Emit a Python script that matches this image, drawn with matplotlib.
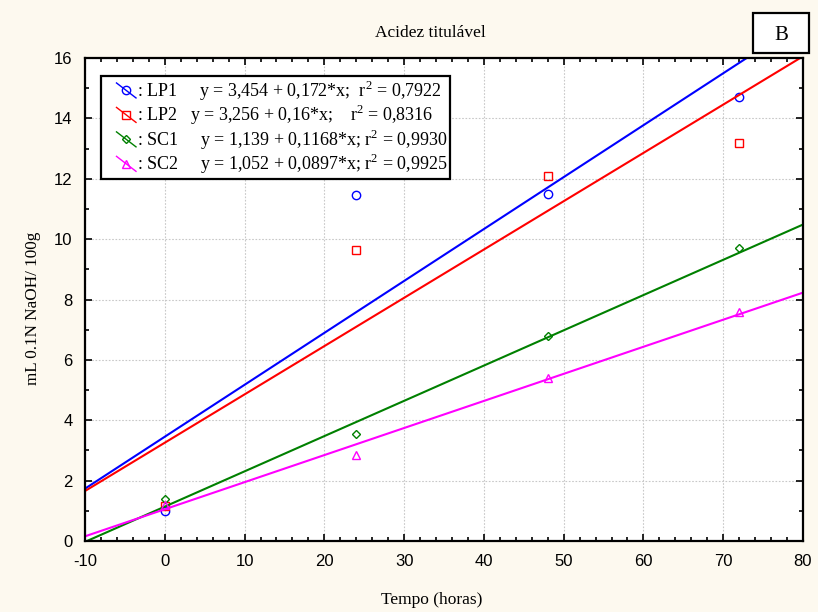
import numpy as np
import matplotlib
matplotlib.use("Agg")
import matplotlib.pyplot as plt
from matplotlib.ticker import MultipleLocator
from matplotlib.patches import Rectangle
from matplotlib.lines import Line2D
from matplotlib.legend_handler import HandlerBase

# measured points (mL 0.1N NaOH / 100g) over time (hours)
tempo = [0, 24, 48, 72]
lp1 = [1.0, 11.45, 11.5, 14.7]
lp2 = [1.15, 9.65, 12.1, 13.2]
sc1 = [1.4, 3.55, 6.8, 9.7]
sc2 = [1.2, 2.85, 5.4, 7.6]

# linear fits shown in the legend
names = ["LP1", "LP2", "SC1", "SC2"]
intercepts = [3.454, 3.256, 1.139, 1.052]
slopes = [0.172, 0.16, 0.1168, 0.0897]
labels = [
    ": LP1     y = 3,454 + 0,172*x;  r$^2$ = 0,7922",
    ": LP2   y = 3,256 + 0,16*x;    r$^2$ = 0,8316",
    ": SC1     y = 1,139 + 0,1168*x; r$^2$ = 0,9930",
    ": SC2     y = 1,052 + 0,0897*x; r$^2$ = 0,9925",
]
colors = ["#0000ff", "#ff0000", "#008000", "#ff00ff"]
markers = ["o", "s", "D", "^"]
msizes = [6, 6, 4.5, 6]

serif = "Liberation Serif"
sans = "Liberation Sans"
plt.rcParams["mathtext.fontset"] = "custom"
plt.rcParams["mathtext.rm"] = serif
plt.rcParams["axes.unicode_minus"] = False


class DiagonalHandler(HandlerBase):
    # short slanted line with the marker in the middle, like the original legend
    def create_artists(self, legend, orig, xdescent, ydescent, width, height, fontsize, trans):
        x0, x1 = -xdescent + width * 0.4, -xdescent + width
        y0, y1 = -ydescent + height * 1.0, -ydescent
        line = Line2D([x0, x1], [y0, y1], color=orig.get_color(), lw=1.0, transform=trans)
        mark = Line2D([(x0 + x1) / 2], [(y0 + y1) / 2], ls="none", marker=orig.get_marker(),
                      ms=orig.get_markersize(), mfc="none", mec=orig.get_color(), transform=trans)
        return [line, mark]


fig = plt.figure(figsize=(8.18, 6.12), dpi=100)
fig.patch.set_facecolor("#fdf9ef")
ax = fig.add_axes([85 / 818, 1 - 541 / 612, 718 / 818, 483 / 612])
ax.set_facecolor("white")

xfit = np.linspace(-10, 80, 200)
series = [lp1, lp2, sc1, sc2]
handles = []
for ys, a, b, c, m, ms in zip(series, intercepts, slopes, colors, markers, msizes):
    ax.plot(xfit, a + b * xfit, color=c, lw=1.5)
    ax.plot(tempo, ys, ls="none", marker=m, ms=ms, mfc="none", mec=c, mew=1)
    handles.append(Line2D([], [], color=c, marker=m, ms=ms))

ax.set_xlim(-10, 80)
ax.set_ylim(0, 16)
ax.xaxis.set_major_locator(MultipleLocator(10))
ax.xaxis.set_minor_locator(MultipleLocator(2))
ax.yaxis.set_major_locator(MultipleLocator(2))
ax.yaxis.set_minor_locator(MultipleLocator(1))
ax.tick_params(which="both", direction="in", top=True, right=True, width=1.2)
ax.tick_params(which="major", length=5, labelsize=12, pad=9)
ax.tick_params(which="minor", length=3)
for lab in ax.get_xticklabels() + ax.get_yticklabels():
    lab.set_fontfamily(sans)
for s in ax.spines.values():
    s.set_linewidth(1.6)
ax.grid(True, which="major", ls=(0, (1.5, 1.5)), color="#c8c8c8", lw=0.8)
ax.set_axisbelow(True)

leg = ax.legend(handles, labels, loc="upper left", bbox_to_anchor=(0.022, 0.963),
                borderaxespad=0, prop={"family": serif, "size": 13},
                handler_map={Line2D: DiagonalHandler()},
                handlelength=1.8, handleheight=0.9, handletextpad=0.05, borderpad=0.15,
                labelspacing=0.02, fancybox=False, framealpha=1, edgecolor="black")
leg.get_frame().set_linewidth(1.6)

fig.text(430 / 818, 1 - 33 / 612, "Acidez titulável", ha="center", va="center",
         family=serif, fontsize=12.5)
fig.text(432 / 818, 1 - 600 / 612, "Tempo (horas)", ha="center", va="center",
         family=serif, fontsize=12.5)
fig.text(33 / 818, 1 - 308 / 612, "mL 0.1N NaOH/ 100g", ha="center", va="center",
         rotation=90, family=serif, fontsize=12.3)

fig.patches.append(Rectangle((753 / 818, 1 - 53 / 612), 56 / 818, 40 / 612,
                             transform=fig.transFigure, facecolor="white",
                             edgecolor="black", lw=1.6))
fig.text(781 / 818, 1 - 35 / 612, "B", ha="center", va="center", family=serif, fontsize=15)

fig.savefig("out.png", dpi=100, facecolor=fig.get_facecolor())
